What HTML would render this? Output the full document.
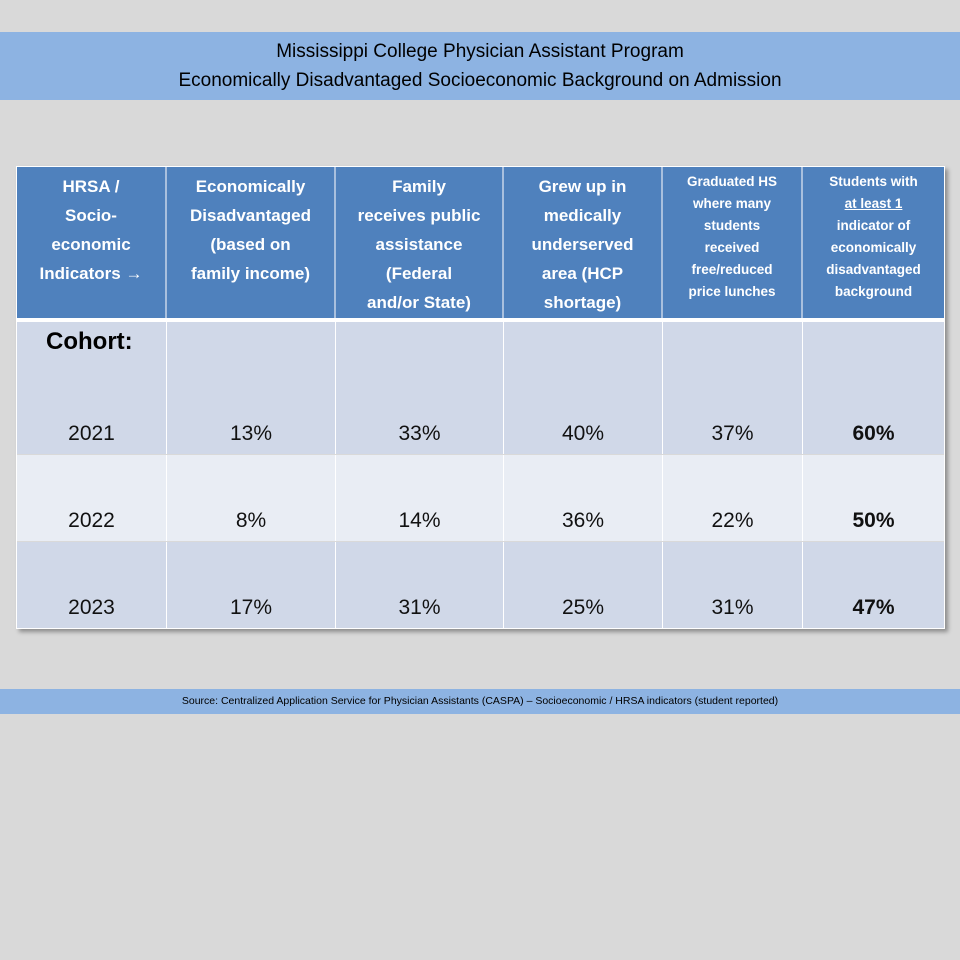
<!DOCTYPE html>
<html><head><meta charset="utf-8"><style>
body{margin:0;width:960px;height:960px;background:#d9d9d9;font-family:"Liberation Sans",sans-serif;position:relative;overflow:hidden}
.band{position:absolute;left:0;width:960px;background:#8db3e2;text-align:center;color:#000}
.c{position:absolute;box-sizing:border-box;display:flex;align-items:center;justify-content:center;text-align:center}
.h{background:#4f81bd;color:#fff;font-weight:bold;font-size:17px;line-height:29px;border-right:2px solid #a9c0de;align-items:flex-start;padding-top:5px}
.hs{font-size:13.5px;line-height:22px;padding-top:4px}
.d{font-size:21px;color:#111;align-items:flex-end;padding-bottom:8px;border-right:1px solid #fff}
.r1{background:#d0d8e8}.r2{background:#e9edf4}
</style></head><body>
<div class="band" style="top:32px;height:68px;font-size:19px;line-height:29px;padding-top:5px;box-sizing:border-box">Mississippi College Physician Assistant Program<br>Economically Disadvantaged Socioeconomic Background on Admission</div>
<div style="position:absolute;left:16px;top:166px;width:929px;height:463px;box-shadow:3px 3px 4px rgba(0,0,0,0.35);border:1px solid #fff;box-sizing:border-box"></div>
<div class="c h" style="left:17px;top:167px;width:150px;height:151px"><span>HRSA /<br>Socio-<br>economic<br>Indicators →</span></div>
<div class="c h" style="left:167px;top:167px;width:169px;height:151px"><span>Economically<br>Disadvantaged<br>(based on<br>family income)</span></div>
<div class="c h" style="left:336px;top:167px;width:168px;height:151px"><span>Family<br>receives public<br>assistance<br>(Federal<br>and/or State)</span></div>
<div class="c h" style="left:504px;top:167px;width:159px;height:151px"><span>Grew up in<br>medically<br>underserved<br>area (HCP<br>shortage)</span></div>
<div class="c h hs" style="left:663px;top:167px;width:140px;height:151px"><span>Graduated HS<br>where many<br>students<br>received<br>free/reduced<br>price lunches</span></div>
<div class="c h hs" style="left:803px;top:167px;width:141px;height:151px;border-right:none"><span>Students with<br><u>at least 1</u><br>indicator of<br>economically<br>disadvantaged<br>background</span></div>
<div style="position:absolute;left:17px;top:318px;width:927px;height:4px;background:#fff"></div>

<div class="c d r1" style="left:17px;top:322px;width:150px;height:132px">2021</div>
<div style="position:absolute;left:46px;top:328px;font-size:24px;font-weight:bold">Cohort:</div>
<div class="c d r1" style="left:167px;top:322px;width:169px;height:132px">13%</div>
<div class="c d r1" style="left:336px;top:322px;width:168px;height:132px">33%</div>
<div class="c d r1" style="left:504px;top:322px;width:159px;height:132px">40%</div>
<div class="c d r1" style="left:663px;top:322px;width:140px;height:132px">37%</div>
<div class="c d r1" style="left:803px;top:322px;width:141px;height:132px;font-weight:bold;border-right:none">60%</div>

<div class="c d r2" style="left:17px;top:455px;width:150px;height:86px">2022</div>
<div class="c d r2" style="left:167px;top:455px;width:169px;height:86px">8%</div>
<div class="c d r2" style="left:336px;top:455px;width:168px;height:86px">14%</div>
<div class="c d r2" style="left:504px;top:455px;width:159px;height:86px">36%</div>
<div class="c d r2" style="left:663px;top:455px;width:140px;height:86px">22%</div>
<div class="c d r2" style="left:803px;top:455px;width:141px;height:86px;font-weight:bold;border-right:none">50%</div>

<div class="c d r1" style="left:17px;top:542px;width:150px;height:86px">2023</div>
<div class="c d r1" style="left:167px;top:542px;width:169px;height:86px">17%</div>
<div class="c d r1" style="left:336px;top:542px;width:168px;height:86px">31%</div>
<div class="c d r1" style="left:504px;top:542px;width:159px;height:86px">25%</div>
<div class="c d r1" style="left:663px;top:542px;width:140px;height:86px">31%</div>
<div class="c d r1" style="left:803px;top:542px;width:141px;height:86px;font-weight:bold;border-right:none">47%</div>

<div class="band" style="top:689px;height:25px;font-size:10.5px;line-height:25px">Source: Centralized Application Service for Physician Assistants (CASPA) – Socioeconomic / HRSA indicators (student reported)</div>
</body></html>
